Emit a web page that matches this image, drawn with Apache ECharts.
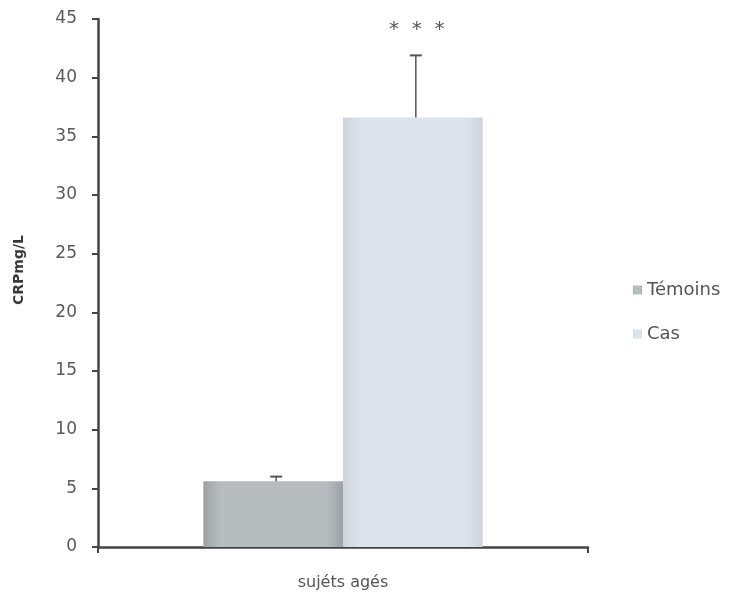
<!DOCTYPE html>
<html>
<head>
<meta charset="utf-8">
<script src="https://cdn.jsdelivr.net/npm/echarts@6/dist/echarts.min.js"></script>
<style>html,body{margin:0;padding:0;background:#fff}#c{width:735px;height:602px}</style>
</head>
<body>
<div id="c"></div>
<script>
const categories = ["sujéts agés"];
const seriesNames = ["Témoins", "Cas"];
const temoinsValues = [5.6];
const temoinsErrors = [0.4];
const casValues = [36.6];
const casErrors = [5.3];
const significance = ["***"];
const yTicks = { min: 0, max: 45, interval: 5 };

const GAP = 0.43;
const chart = echarts.init(document.getElementById('c'));

function errRender(side, labels) {
  return function (params, api) {
    const cat = api.value(0);
    const mean = api.value(1);
    const err = api.value(2);
    const band = api.size([1, 0])[0];
    const barW = band * (1 - GAP) / 2;
    const base = api.coord([cat, mean]);
    const top = api.coord([cat, mean + err]);
    const xc = base[0] + side * barW / 2 + 3;
    const children = [
      { type: 'line', shape: { x1: xc, y1: base[1], x2: xc, y2: top[1] }, style: { stroke: '#555', lineWidth: 1.5 } },
      { type: 'line', shape: { x1: xc - 6, y1: top[1], x2: xc + 6, y2: top[1] }, style: { stroke: '#555', lineWidth: 2 } }
    ];
    if (labels && labels[params.dataIndex]) {
      children.push({ type: 'text', x: xc + 1, y: top[1] - 26, style: { text: labels[params.dataIndex].split('').join('  '), fill: '#555', font: '20px "DejaVu Sans"', align: 'center', verticalAlign: 'middle' } });
    }
    return { type: 'group', children };
  };
}

function grad(edge, mid) {
  return new echarts.graphic.LinearGradient(0, 0, 1, 0, [
    { offset: 0, color: edge }, { offset: 0.12, color: mid }, { offset: 0.88, color: mid }, { offset: 1, color: edge }
  ]);
}

chart.setOption({
  animation: false,
  backgroundColor: '#fff',
  grid: { left: 98, right: 147, top: 19, bottom: 55 },
  legend: {
    data: seriesNames,
    orient: 'vertical',
    left: 628,
    top: 276,
    itemWidth: 9,
    itemHeight: 9,
    itemGap: 26,
    icon: 'rect',
    textStyle: { fontFamily: 'DejaVu Sans', fontSize: 18, color: '#555' }
  },
  xAxis: {
    type: 'category',
    data: categories,
    axisLine: { lineStyle: { color: '#444', width: 2.5 } },
    axisTick: { show: true, length: 6, lineStyle: { color: '#444', width: 2 } },
    axisLabel: { margin: 28, fontFamily: 'DejaVu Sans', fontSize: 16, color: '#555' }
  },
  yAxis: {
    type: 'value',
    min: yTicks.min, max: yTicks.max, interval: yTicks.interval,
    name: 'CRPmg/L',
    nameLocation: 'middle',
    nameGap: 72,
    nameTextStyle: { fontFamily: 'DejaVu Sans', fontSize: 14, fontWeight: 'bold', color: '#3a3a3a', padding: [0, 0, 0, 26] },
    splitLine: { show: false },
    axisLine: { show: true, lineStyle: { color: '#444', width: 2.5 } },
    axisTick: { show: true, length: 6, lineStyle: { color: '#444', width: 2 } },
    axisLabel: { margin: 21, fontFamily: 'DejaVu Sans', fontSize: 17, color: '#5a5a5a' }
  },
  series: [
    { name: seriesNames[0], type: 'bar', data: temoinsValues, barGap: '0%', barCategoryGap: (GAP * 100) + '%',
      itemStyle: { color: grad('#9ca2a6', '#b7bcbf') } },
    { name: seriesNames[1], type: 'bar', data: casValues,
      itemStyle: { color: grad('#cdd4dc', '#dde3ea') } },
    { type: 'custom', renderItem: errRender(-1, null), data: temoinsValues.map((v, i) => [i, v, temoinsErrors[i]]), z: 5 },
    { type: 'custom', renderItem: errRender(1, significance), data: casValues.map((v, i) => [i, v, casErrors[i]]), z: 5 }
  ]
});
</script>
</body>
</html>
